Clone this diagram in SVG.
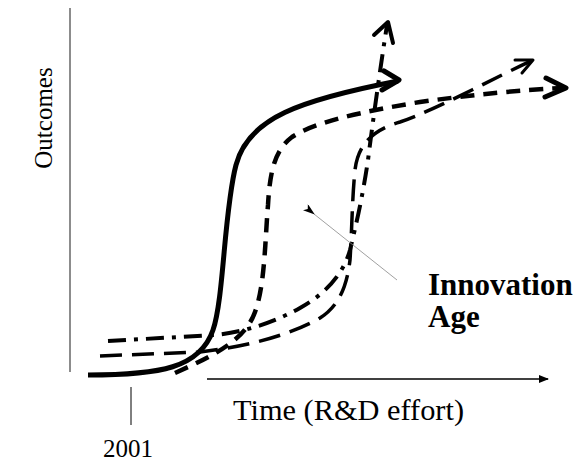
<svg xmlns="http://www.w3.org/2000/svg" width="581" height="463" viewBox="0 0 581 463">
<style>
  text { font-family: "Liberation Serif", "Times New Roman", "DejaVu Serif", serif; fill: #000; }
  .bold { font-weight: bold; }
  .curve { fill: none; stroke: #000; stroke-linecap: butt; }
  .head { fill: none; stroke: #000; stroke-linecap: round; stroke-linejoin: round; }
  .axis { fill: none; stroke: #000; stroke-width: 1.3; }
</style>
<defs>
  <marker id="axhead" markerWidth="10" markerHeight="8" refX="9" refY="4" orient="auto" markerUnits="userSpaceOnUse">
    <path d="M0,0 L10,4 L0,8 Z" fill="#000"/>
  </marker>
  <marker id="ptrhead" markerWidth="12" markerHeight="8" refX="1" refY="4" orient="auto" markerUnits="userSpaceOnUse">
    <path d="M0,4 L12,0 L9,4 L12,8 Z" fill="#000"/>
  </marker>
</defs>

<g id="axes">
  <line x1="70" y1="8" x2="70" y2="372" stroke="#666" stroke-width="1.5"/>
  <line class="axis" x1="207" y1="379" x2="548" y2="379" marker-end="url(#axhead)"/>
  <line x1="131" y1="387" x2="131" y2="425" stroke="#000" stroke-width="1"/>
</g>

<g id="connectors">
  <!-- solid S-curve -->
  <path class="curve" stroke-width="5" d="M88,375 C160,375 200,368 213,330 C224,298 224,210 236,165 C248,118 300,100 398,81"/>
  <path class="head" stroke-width="5" d="M384,71 L399,80 L382,90"/>
  <!-- short-dashed curve -->
  <path class="curve" stroke-width="4.5" stroke-dasharray="14,9" d="M175,373 C215,355 245,340 255,312 C265,285 265,240 268,205 C270,170 275,150 292,137 C315,122 360,112 420,102 C470,95 520,90 563,88"/>
  <path class="head" stroke-width="5" d="M546,78 L566,88 L545,97"/>
  <!-- long-dashed curve -->
  <path class="curve" stroke-width="3.5" stroke-dasharray="22,10" d="M100,356 L200,352 C250,346 290,335 320,318 C340,305 347,285 350,260 C352,230 352,200 355,170 C358,145 372,130 400,122 C440,108 490,80 531,61"/>
  <path class="head" stroke-width="3" d="M515,60 L533,60 L522,73"/>
  <!-- dash-dot curve -->
  <path class="curve" stroke-width="4" stroke-dasharray="18,8,4,8" d="M108,341 L215,335 C245,332 275,322 300,308 C325,294 343,275 350,250 C356,225 362,200 368,160 C373,120 380,70 387,25"/>
  <path class="head" stroke-width="4" d="M374,35 L388,22 L393,43"/>
  <!-- pointer -->
  <line x1="397" y1="280" x2="314" y2="214" stroke="#888" stroke-width="0.8" marker-end="url(#ptrhead)"/>
</g>

<g id="labels">
  <text font-family="Liberation Serif, serif" font-size="25" transform="translate(52,118) rotate(-90)" text-anchor="middle">Outcomes</text>
  <text font-family="Liberation Serif, serif" font-size="29" x="233" y="420" textLength="231" lengthAdjust="spacingAndGlyphs">Time (R&amp;D effort)</text>
  <text font-family="Liberation Serif, serif" font-size="25" x="103" y="457">2001</text>
  <g id="innovation-age">
    <text class="bold" font-family="Liberation Serif, serif" font-size="31" x="428" y="295">Innovation</text>
    <text class="bold" font-family="Liberation Serif, serif" font-size="31" x="428" y="327">Age</text>
  </g>
</g>
</svg>
